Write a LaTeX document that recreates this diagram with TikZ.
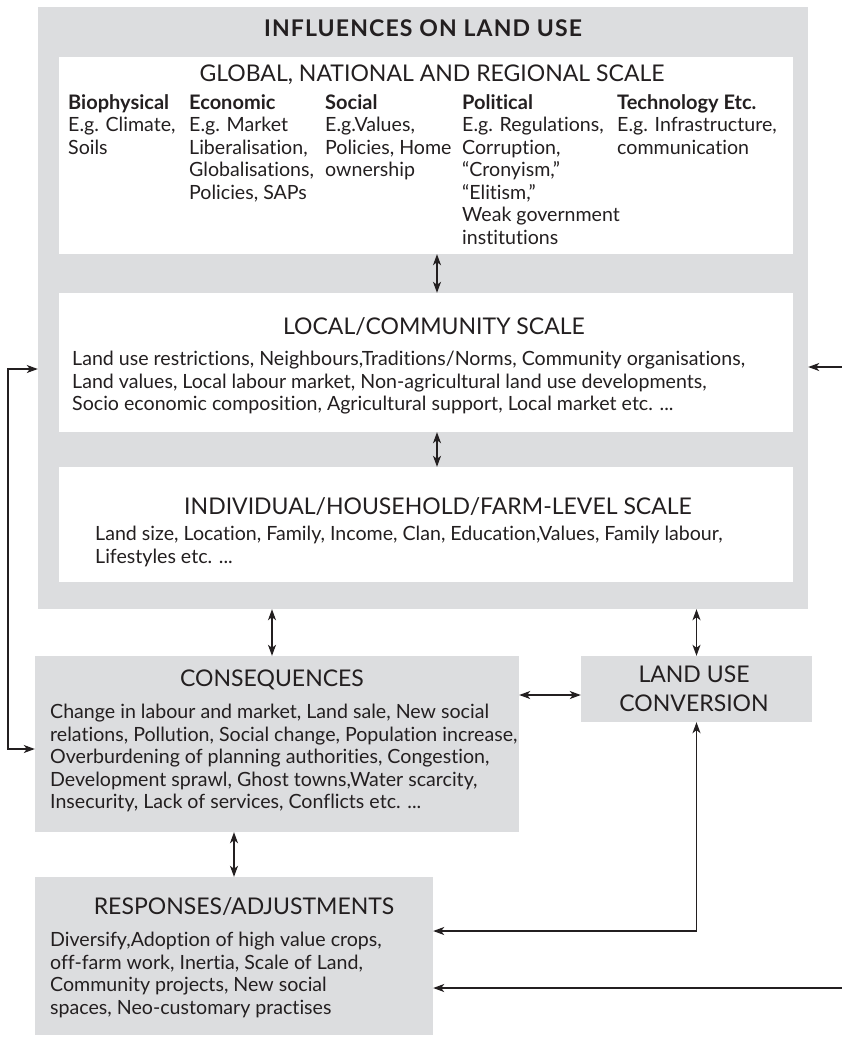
\documentclass[tikz,border=0pt]{standalone}
\usepackage{fontspec}
\setmainfont{Lato}[Ligatures={TeX,NoCommon}]
\usepackage{xcolor}
\usepackage{tikz}
\usetikzlibrary{arrows.meta, positioning}
\definecolor{panelgrey}{RGB}{220, 221, 223}
\definecolor{inkgrey}{RGB}{35, 31, 32}
\newcommand{\colhd}[1]{{\fontsize{20}{22.5}\bfseries\selectfont #1}}

\begin{document}
\begin{tikzpicture}[
        x=1pt, y=-1pt,
        panel/.style={fill=panelgrey, draw=none, inner sep=0pt},
        scalebox/.style={fill=white, draw=none, inner sep=0pt, minimum width=734pt},
        head/.style={font=\fontsize{23}{27}\selectfont, inner sep=0pt, text=inkgrey},
        body/.style={font=\fontsize{19.6}{22.5}\selectfont, align=left, anchor=north west,
                     inner sep=0pt, text=inkgrey},
        link/.style={{Stealth[length=11pt,width=8pt,inset=3pt]}-{Stealth[length=11pt,width=8pt,inset=3pt]},
                     line width=1.2pt, draw=inkgrey},
        feed/.style={-{Stealth[length=11pt,width=8pt,inset=3pt]}, line width=1.2pt, draw=inkgrey}
      ]
        \useasboundingbox (0,0) rectangle (842,1037);
        \node[panel, minimum width=770pt, minimum height=602pt] (infl) at (423,308) {};
        \node[font=\fontsize{23}{27}\bfseries\addfontfeatures{LetterSpace=5}\selectfont, text=inkgrey]
              (title) at (423,28) {INFLUENCES ON LAND USE};

        \node[scalebox, minimum height=197pt] (glob) at (426,155.5) {};
        \node[head] (globhead) at (432,75) {GLOBAL, NATIONAL AND REGIONAL SCALE};
        \node[body] (bio) at (68,94) {\colhd{Biophysical}\\E.g. Climate,\\Soils};
        \node[body] (eco) at (189,94) {\colhd{Economic}\\E.g. Market\\Liberalisation,\\Globalisations,\\Policies, SAPs};
        \node[body] (soc) at (325,94) {\colhd{Social}\\E.g.Values,\\Policies, Home\\ownership};
        \node[body] (pol) at (462,94) {\colhd{Political}\\E.g. Regulations,\\Corruption,\\“Cronyism,”\\“Elitism,”\\Weak government\\institutions};
        \node[body] (tech) at (617,94) {\colhd{Technology Etc.}\\E.g. Infrastructure,\\communication};

        \node[scalebox, minimum height=139pt] (local) at (426,362.5) {};
        \node[head] (localhead) at (434,327) {LOCAL/COMMUNITY SCALE};
        \node[body] (localtxt) at (72,351) {Land use restrictions, Neighbours,Traditions/Norms, Community organisations,\\
              Land values, Local labour market, Non-agricultural land use developments,\\
              Socio economic composition,  Agricultural support, Local market etc. ...};

        \node[scalebox, minimum height=115pt] (ind) at (426,524.5) {};
        \node[head] (indhead) at (438,507) {INDIVIDUAL/HOUSEHOLD/FARM-LEVEL SCALE};
        \node[body] (indtxt) at (95,526) {Land size, Location, Family, Income, Clan, Education,Values, Family labour,\\
              Lifestyles etc. ...};

        \node[panel, minimum width=484pt, minimum height=176pt] (cons) at (277,744) {};
        \node[head] (conshead) at (272,680) {CONSEQUENCES};
        \node[body] (constxt) at (50,704) {Change in labour and market, Land sale, New social\\
              relations, Pollution, Social change, Population increase,\\
              Overburdening of planning authorities, Congestion,\\
              Development sprawl, Ghost towns,Water scarcity,\\
              Insecurity, Lack of services, Conflicts etc. ...};

        \node[panel, minimum width=231pt, minimum height=66pt] (luc) at (696.5,689) {};
        \node[head, align=center, font=\fontsize{23}{29}\selectfont] (luchead) at (694,689) {LAND USE\\CONVERSION};

        \node[panel, minimum width=398pt, minimum height=158pt] (resp) at (234,956) {};
        \node[head] (resphead) at (244,907) {RESPONSES/ADJUSTMENTS};
        \node[body] (resptxt) at (50,932) {Diversify,Adoption of high value crops,\\
              off-farm work, Inertia, Scale of Land,\\
              Community projects, New social\\
              spaces, Neo-customary practises};

        \coordinate (fbtop) at (8,369);
        \coordinate (fbbot) at (8,749);
        \coordinate (lucbend) at (696.5,931);
        \coordinate (rightin) at (842,367);
        \coordinate (rightlow) at (842,988);

        \draw[link] ([xshift=11pt]glob.south) -- ([xshift=11pt]local.north);
        \draw[link] ([xshift=11pt]local.south) -- ([xshift=11pt]ind.north);
        \draw[link] ([xshift=-5pt]cons.north |- infl.south) -- ([xshift=-5pt]cons.north);
        \draw[link] (infl.south -| luc.north) -- (luc.north);
        \draw[link] ([yshift=-6pt]luc.west -| cons.east) -- ([yshift=-6pt]luc.west);
        \draw[link] (cons.south -| resp.north) -- (resp.north);
        \draw[link] (fbtop -| infl.west) -- (fbtop) -- (fbbot) -- (fbbot -| cons.west);
        \draw[link] (luc.south) -- (lucbend) -- (lucbend -| resp.east);
        \draw[feed] (rightin) -- (rightin -| infl.east);
        \draw[feed] (rightlow) -- (rightlow -| resp.east);
      \end{tikzpicture}
\end{document}
